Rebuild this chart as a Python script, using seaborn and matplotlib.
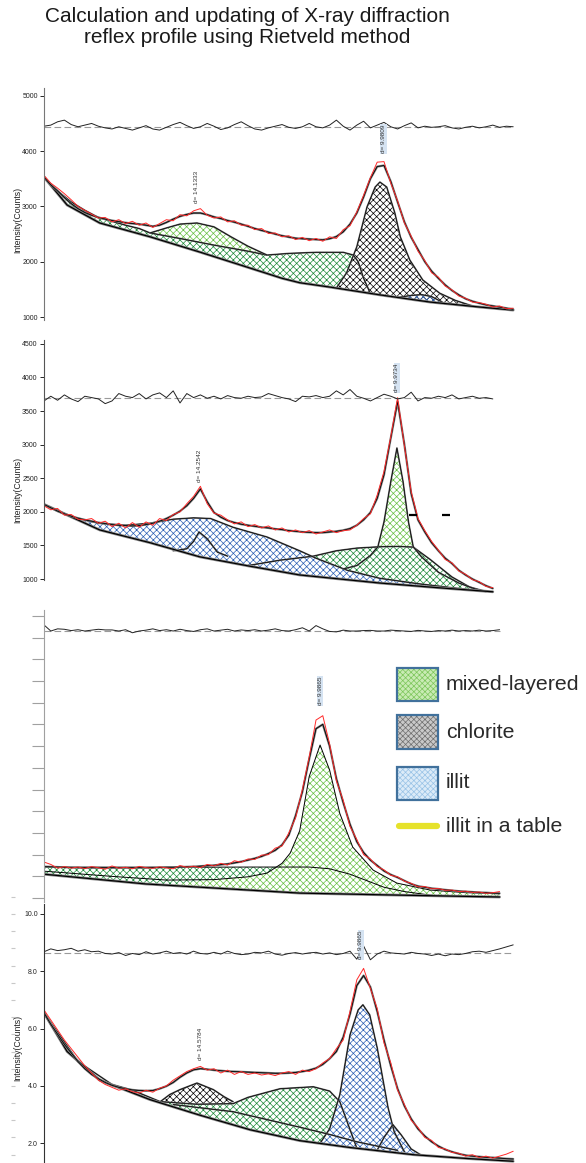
import numpy as np
import seaborn as sns
import matplotlib
matplotlib.use('Agg')
import matplotlib.pyplot as plt
from matplotlib.patches import Rectangle
from matplotlib.lines import Line2D

sns.set_style('white')
plt.rcParams['font.family'] = ['Liberation Sans', 'DejaVu Sans']
plt.rcParams['hatch.linewidth'] = 0.5

# scan grid, 2theta (deg)
two_theta = np.round(np.arange(4.0, 10.95, 0.1), 1)

# ---------------- panel 1 (counts)
p1_calc = [3530, 3390, 3280, 3160, 3050, 2960, 2890, 2840, 2800, 2770,
           2745, 2725, 2705, 2690, 2680, 2660, 2640, 2660, 2710, 2770,
           2820, 2855, 2880, 2880, 2850, 2810, 2780, 2745, 2715, 2680,
           2640, 2600, 2565, 2535, 2500, 2470, 2445, 2425, 2415, 2410,
           2400, 2395, 2415, 2455, 2540, 2680, 2880, 3170, 3500, 3720,
           3740, 3450, 3080, 2720, 2440, 2220, 2000, 1830, 1700, 1580,
           1480, 1400, 1330, 1285, 1250, 1220, 1200, 1180, 1160, 1140]
p1_obs = [3560, 3420, 3330, 3230, 3120, 3000, 2930, 2860, 2790, 2800,
          2720, 2760, 2690, 2730, 2660, 2700, 2620, 2690, 2760, 2740,
          2850, 2830, 2920, 2960, 2840, 2790, 2810, 2720, 2740, 2660,
          2660, 2580, 2600, 2510, 2520, 2450, 2470, 2400, 2440, 2380,
          2420, 2370, 2450, 2420, 2580, 2650, 2900, 3200, 3520, 3800,
          3810, 3420, 3100, 2700, 2460, 2190, 2020, 1800, 1720, 1560,
          1490, 1380, 1340, 1270, 1260, 1230, 1180, 1200, 1150, 1160]
p1_resid = [4450, 4470, 4530, 4560, 4480, 4440, 4470, 4500, 4450, 4420,
            4400, 4440, 4410, 4380, 4420, 4460, 4400, 4380, 4430, 4480,
            4520, 4460, 4410, 4440, 4500, 4450, 4390, 4420, 4480, 4530,
            4460, 4400, 4380, 4420, 4450, 4480, 4430, 4410, 4440, 4500,
            4440, 4420, 4470, 4560, 4450, 4380, 4470, 4540, 4420, 4470,
            4520, 4440, 4400, 4460, 4510, 4420, 4450, 4430, 4440, 4460,
            4420, 4400, 4430, 4450, 4420, 4440, 4470, 4430, 4450, 4440]
p1_zero = 4430
p1_bg_x = [4.0, 4.34, 4.82, 5.56, 6.29, 7.03, 7.5, 7.76, 8.21, 8.94, 9.68, 10.41, 10.9]
p1_bg_y = [3530, 3025, 2700, 2450, 2175, 1885, 1700, 1620, 1540, 1400, 1270, 1180, 1125]
p1_dgreen_x = [4.0, 4.2, 4.4, 4.6, 4.8, 5.0, 5.2, 5.4, 5.56, 6.0, 6.5, 7.0, 7.28,
               7.6, 8.0, 8.4, 8.55, 8.62, 8.7, 8.8]
p1_dgreen_y = [3530, 3280, 3080, 2930, 2800, 2730, 2660, 2600, 2520, 2420, 2300,
               2190, 2120, 2150, 2170, 2170, 2120, 2000, 1700, 1425]
p1_lgreen_x = [5.56, 5.8, 6.0, 6.25, 6.5, 6.75, 7.0, 7.28]
p1_lgreen_y = [2520, 2610, 2680, 2700, 2630, 2450, 2280, 2120]
p1_chlor_x = [8.3, 8.45, 8.6, 8.75, 8.87, 8.94, 9.04, 9.16, 9.24, 9.38, 9.57, 9.82, 10.05, 10.3]
p1_chlor_y = [1525, 1800, 2270, 2990, 3350, 3440, 3350, 2880, 2450, 2030, 1670, 1430, 1300, 1200]
p1_illit_x = [9.2, 9.4, 9.55, 9.7, 9.9]
p1_illit_y = [1355, 1390, 1405, 1370, 1240]

# ---------------- panel 2 (counts)
p2_calc = [2110, 2060, 2010, 1970, 1935, 1905, 1880, 1860, 1840, 1825,
           1810, 1800, 1795, 1790, 1795, 1810, 1830, 1860, 1900, 1950,
           2010, 2090, 2200, 2340, 2150, 1990, 1920, 1870, 1840, 1815,
           1800, 1785, 1770, 1760, 1745, 1735, 1720, 1710, 1700, 1695,
           1690, 1690, 1700, 1710, 1725, 1750, 1800, 1880, 1990, 2200,
           2550, 3100, 3640, 3000, 2270, 1880, 1700, 1540, 1420, 1310,
           1230, 1130, 1060, 1000, 950, 900, 860]
p2_obs = [2090, 2030, 2050, 1950, 1960, 1890, 1880, 1900, 1830, 1860,
          1780, 1830, 1760, 1840, 1770, 1850, 1800, 1900, 1870, 1960,
          2000, 2120, 2230, 2380, 2120, 1980, 1950, 1880, 1820, 1850,
          1780, 1810, 1760, 1790, 1730, 1760, 1700, 1730, 1690, 1720,
          1670, 1700, 1730, 1690, 1720, 1730, 1800, 1900, 1970, 2250,
          2600, 3120, 3700, 2980, 2300, 1900, 1720, 1560, 1430, 1290,
          1240, 1120, 1070, 990, 960, 890, 870]
p2_resid = [3650, 3720, 3660, 3740, 3680, 3640, 3720, 3700, 3680, 3610,
            3650, 3760, 3720, 3700, 3760, 3680, 3740, 3770, 3700, 3800,
            3620, 3760, 3700, 3740, 3690, 3720, 3680, 3730, 3700, 3690,
            3720, 3700, 3710, 3760, 3730, 3700, 3680, 3640, 3720, 3710,
            3730, 3700, 3720, 3800, 3740, 3820, 3720, 3690, 3650, 3700,
            3750, 3720, 3680, 3700, 3780, 3650, 3700, 3690, 3720, 3700,
            3740, 3680, 3700, 3720, 3690, 3700, 3680]
p2_zero = 3700
p2_bg_x = [4.0, 4.82, 5.56, 6.29, 7.03, 7.76, 8.94, 9.8, 10.6]
p2_bg_y = [2110, 1730, 1540, 1330, 1190, 1060, 940, 870, 810]
p2_illit_x = [4.0, 4.4, 4.8, 5.2, 5.56, 5.9, 6.2, 6.45, 6.78, 7.28, 7.76, 8.0,
              8.46, 8.94, 9.5, 10.0, 10.5]
p2_illit_y = [2110, 1930, 1830, 1800, 1830, 1890, 1910, 1900, 1770, 1625, 1420,
              1310, 1130, 1010, 930, 870, 815]
p2_illit2_x = [5.9, 6.1, 6.2, 6.28, 6.4, 6.55, 6.7]
p2_illit2_y = [1420, 1450, 1560, 1700, 1600, 1400, 1340]
p2_green_x = [7.0, 7.47, 7.96, 8.3, 8.6, 8.94, 9.2, 9.43, 9.68, 10.0, 10.26, 10.5]
p2_green_y = [1200, 1280, 1340, 1420, 1460, 1480, 1485, 1475, 1290, 1030, 880, 815]
p2_sharp_x = [8.4, 8.6, 8.8, 8.91, 9.0, 9.1, 9.19, 9.28, 9.36, 9.43, 9.55, 9.8, 10.1, 10.4]
p2_sharp_y = [1150, 1200, 1350, 1480, 1850, 2450, 2950, 2450, 1850, 1480, 1330, 1100, 940, 830]
p2_mark_x = [9.43, 9.91]
p2_mark_y = [1950, 1950]

# ---------------- panel 3 (no scale labels)
p3_calc = [1.45, 1.44, 1.43, 1.42, 1.41, 1.40, 1.40, 1.40, 1.40, 1.40,
           1.40, 1.40, 1.40, 1.40, 1.40, 1.40, 1.41, 1.41, 1.42, 1.42,
           1.43, 1.44, 1.45, 1.47, 1.49, 1.51, 1.54, 1.57, 1.62, 1.68,
           1.75, 1.83, 1.92, 2.05, 2.2, 2.45, 2.9, 3.8, 4.9, 6.4,
           7.8, 8.0, 7.0, 5.5, 4.4, 3.4, 2.6, 2.1, 1.75, 1.5,
           1.25, 1.08, 0.95, 0.8, 0.65, 0.55, 0.5, 0.45, 0.42, 0.38,
           0.35, 0.32, 0.3, 0.28, 0.26, 0.25, 0.23, 0.22]
p3_obs = [1.66, 1.55, 1.38, 1.45, 1.38, 1.43, 1.36, 1.45, 1.40, 1.33,
          1.48, 1.38, 1.42, 1.35, 1.46, 1.40, 1.37, 1.44, 1.39, 1.35,
          1.50, 1.42, 1.47, 1.40, 1.55, 1.48, 1.60, 1.52, 1.72, 1.65,
          1.80, 1.78, 1.98, 2.0, 2.3, 2.4, 3.0, 3.7, 5.0, 6.5,
          8.2, 8.4, 7.1, 5.4, 4.5, 3.3, 2.7, 2.0, 1.8, 1.45,
          1.3, 1.05, 0.98, 0.78, 0.68, 0.52, 0.53, 0.43, 0.44, 0.36,
          0.37, 0.3, 0.32, 0.26, 0.28, 0.22, 0.25, 0.3]
p3_resid = [12.58, 12.3, 12.4, 12.38, 12.32, 12.36, 12.3, 12.34, 12.38, 12.35,
            12.35, 12.3, 12.36, 12.22, 12.3, 12.34, 12.4, 12.32, 12.36, 12.3,
            12.38, 12.32, 12.28, 12.36, 12.4, 12.3, 12.34, 12.38, 12.3, 12.35,
            12.32, 12.36, 12.3, 12.34, 12.4, 12.32, 12.3, 12.36, 12.45, 12.3,
            12.55, 12.4, 12.28, 12.26, 12.34, 12.3, 12.3, 12.32, 12.33, 12.3,
            12.3, 12.34, 12.32, 12.3, 12.28, 12.33, 12.3, 12.28, 12.32, 12.3,
            12.34, 12.3, 12.32, 12.3, 12.34, 12.3, 12.32, 12.36]
p3_zero = 12.3
p3_bg_x = [4.0, 5.5, 7.76, 9.0, 10.7]
p3_bg_y = [1.1, 0.65, 0.23, 0.15, 0.05]
p3_dgreen_x = [4.0, 5.0, 6.0, 7.0, 7.47, 7.9, 8.2, 8.5, 8.75, 9.0, 9.3, 9.7]
p3_dgreen_y = [1.43, 1.42, 1.42, 1.43, 1.43, 1.43, 1.35, 1.1, 0.8, 0.5, 0.3, 0.13]
p3_lgreen_x = [4.0, 5.0, 5.8, 6.5, 7.0, 7.28, 7.5, 7.62, 7.76, 7.9, 8.06, 8.2, 8.35,
               8.54, 8.84, 9.19, 9.68, 10.2, 10.7]
p3_lgreen_y = [1.24, 1.0, 0.83, 0.85, 0.98, 1.15, 1.6, 2.07, 3.1, 5.6, 7.05, 5.9, 3.9,
               2.35, 1.29, 0.69, 0.37, 0.25, 0.2]

# ---------------- panel 4 (counts, scaled)
p4_calc = [6.55, 6.15, 5.8, 5.45, 5.15, 4.85, 4.6, 4.4, 4.25, 4.12,
           4.02, 3.95, 3.9, 3.86, 3.84, 3.83, 3.84, 3.9, 3.99, 4.12,
           4.3, 4.45, 4.56, 4.6, 4.58, 4.55, 4.53, 4.51, 4.5, 4.49,
           4.48, 4.47, 4.46, 4.45, 4.44, 4.44, 4.45, 4.47, 4.5, 4.55,
           4.62, 4.75, 4.95, 5.2, 5.7, 6.5, 7.5, 7.85, 7.45, 6.6,
           5.6, 4.7, 3.9, 3.3, 2.85, 2.5, 2.25, 2.05, 1.9, 1.78,
           1.7, 1.63, 1.58, 1.55, 1.53, 1.51, 1.5, 1.48, 1.46, 1.45]
p4_obs = [6.65, 6.3, 5.95, 5.6, 5.3, 5.0, 4.7, 4.45, 4.2, 4.05,
          3.95, 3.85, 3.9, 3.8, 3.75, 3.85, 3.78, 3.92, 4.0, 4.2,
          4.35, 4.5, 4.6, 4.68, 4.55, 4.6, 4.45, 4.55, 4.4, 4.5,
          4.4, 4.45, 4.38, 4.42, 4.36, 4.45, 4.5, 4.4, 4.55, 4.5,
          4.6, 4.8, 4.95, 5.3, 5.6, 6.6, 7.7, 8.1, 7.4, 6.7,
          5.5, 4.8, 3.85, 3.35, 2.8, 2.55, 2.2, 2.1, 1.85, 1.8,
          1.68, 1.65, 1.55, 1.6, 1.5, 1.55, 1.48, 1.55, 1.62, 1.72]
p4_resid = [8.68, 8.78, 8.72, 8.75, 8.8, 8.7, 8.75, 8.68, 8.7, 8.62,
            8.6, 8.65, 8.55, 8.62, 8.58, 8.68, 8.6, 8.64, 8.7, 8.62,
            8.65, 8.6, 8.7, 8.62, 8.6, 8.66, 8.6, 8.7, 8.62, 8.58,
            8.6, 8.66, 8.64, 8.7, 8.6, 8.56, 8.62, 8.65, 8.6, 8.64,
            8.66, 8.6, 8.64, 8.58, 8.62, 8.7, 8.42, 8.88, 8.4, 8.6,
            8.7, 8.64, 8.62, 8.6, 8.66, 8.62, 8.6, 8.55, 8.6, 8.54,
            8.6, 8.58, 8.62, 8.68, 8.7, 8.66, 8.72, 8.78, 8.85, 8.92]
p4_zero = 8.62
p4_bg_x = [4.0, 4.34, 4.82, 5.56, 6.29, 7.03, 7.76, 8.5, 9.43, 10.2, 10.9]
p4_bg_y = [6.55, 5.2, 4.2, 3.52, 2.98, 2.47, 2.09, 1.85, 1.6, 1.47, 1.37]
p4_dgreen_x = [4.0, 4.5, 5.0, 5.3, 5.71, 6.25, 6.78, 7.0, 7.47, 7.96, 8.2, 8.35, 8.45, 8.6]
p4_dgreen_y = [6.55, 4.85, 4.05, 3.85, 3.45, 3.36, 3.38, 3.6, 3.9, 3.97, 3.82, 3.45, 2.8, 1.83]
p4_chlor_x = [5.71, 5.85, 6.0, 6.25, 6.49, 6.65, 6.78]
p4_chlor_y = [3.45, 3.7, 3.87, 4.1, 3.87, 3.62, 3.45]
p4_illit_x = [8.06, 8.2, 8.35, 8.5, 8.62, 8.69, 8.79, 8.9, 8.99, 9.06, 9.15, 9.3]
p4_illit_y = [2.0, 2.5, 3.69, 5.78, 6.65, 6.83, 6.48, 5.33, 4.15, 3.24, 2.4, 1.7]
p4_illit2_x = [8.9, 9.0, 9.13, 9.25, 9.4, 9.55]
p4_illit2_y = [1.76, 2.2, 2.65, 2.3, 1.8, 1.58]
p4_inner_x = [5.9, 6.78, 7.76, 8.21, 8.6, 9.2]
p4_inner_y = [3.35, 3.1, 2.56, 2.3, 2.05, 1.75]

legend_labels = ['mixed-layered', 'chlorite', 'illit', 'illit in a table']

# colours
LGREEN = '#66c044'
DGREEN = '#1c8a38'
BLUE = '#2b5fb3'
RED = '#ff2a2a'

W, H = 586, 1163
fig = plt.figure(figsize=(W / 100, H / 100), dpi=100)


def px_axes(top, bottom):
    ax = fig.add_axes([44 / W, 1 - bottom / H, 476 / W, (bottom - top) / H])
    ax.set_facecolor('none')
    ax.set_xlim(4.0, 11.0)
    ax.set_xticks([])
    for s in ['top', 'right', 'bottom']:
        ax.spines[s].set_visible(False)
    return ax


def line(ax, x, y, color='black', lw=0.8, **kw):
    sns.lineplot(x=np.asarray(x, float), y=np.asarray(y, float), ax=ax, color=color,
                 linewidth=lw, estimator=None, sort=False, **kw)


def hatch(ax, x, low, high, color, face='none', where=None):
    ax.fill_between(x, low, high, facecolor=face, edgecolor=color, hatch='xxxxx',
                    linewidth=0, where=where, interpolate=True)


def profile(ax, calc, obs, resid, zero, bg_x, bg_y):
    n = len(calc)
    x = two_theta[:n]
    line(ax, bg_x, bg_y, color='#8a8a8a', lw=2.0)
    line(ax, bg_x, bg_y, color='black', lw=0.9)
    line(ax, x, calc, color='#7a7a7a', lw=1.6)
    line(ax, x, calc, color='black', lw=0.6)
    line(ax, two_theta[:len(obs)], obs, color=RED, lw=0.7)
    ax.axhline(zero, xmin=0, xmax=(x[-1] - 4.0) / 7.0, color='#9a9a9a', lw=0.8, ls=(0, (6, 3)))
    line(ax, two_theta[:len(resid)], resid, color='#222222', lw=0.7)


def dlabel(ax, x, y, text, boxed=False):
    kw = dict(rotation=90, ha='center', va='bottom', fontsize=4.6, color='#333333')
    if boxed:
        kw['bbox'] = dict(facecolor='#d5e3f2', edgecolor='none', pad=0.6)
    ax.text(x, y, text, **kw)


def ylab(ypx):
    fig.text(18 / W, 1 - ypx / H, 'Intensity(Counts)', rotation=90, ha='center',
             va='center', fontsize=6.3, color='#222222')


# ---------- panel 1
ax1 = px_axes(88, 320)
ax1.set_ylim(946, 5141)
bg = lambda x: np.interp(x, p1_bg_x, p1_bg_y)
hatch(ax1, p1_dgreen_x, bg(p1_dgreen_x), p1_dgreen_y, DGREEN)
hatch(ax1, p1_lgreen_x, np.interp(p1_lgreen_x, p1_dgreen_x, p1_dgreen_y), p1_lgreen_y, LGREEN)
hatch(ax1, p1_chlor_x, bg(p1_chlor_x), p1_chlor_y, 'black', face='white')
hatch(ax1, p1_illit_x, bg(p1_illit_x), p1_illit_y, BLUE)
for cx, cy in [(p1_dgreen_x, p1_dgreen_y), (p1_lgreen_x, p1_lgreen_y),
               (p1_chlor_x, p1_chlor_y), (p1_illit_x, p1_illit_y)]:
    line(ax1, cx, cy, color='#6a6a6a', lw=1.2)
    line(ax1, cx, cy, color='black', lw=0.5)
profile(ax1, p1_calc, p1_obs, p1_resid, p1_zero, p1_bg_x, p1_bg_y)
ax1.set_yticks([1000, 2000, 3000, 4000, 5000])
dlabel(ax1, 6.25, 3060, 'd= 14.1333')
dlabel(ax1, 8.99, 3965, 'd= 9.9809', boxed=True)
ylab(220)

# ---------- panel 2
ax2 = px_axes(340, 595)
ax2.set_ylim(762, 4557)
bg = lambda x: np.interp(x, p2_bg_x, p2_bg_y)
hatch(ax2, p2_green_x, bg(p2_green_x), p2_green_y, DGREEN)
hatch(ax2, p2_illit_x, bg(p2_illit_x), p2_illit_y, BLUE, face='white')
gtop = np.interp(p2_sharp_x, p2_green_x, p2_green_y)
hatch(ax2, p2_sharp_x, gtop, p2_sharp_y, LGREEN, where=np.array(p2_sharp_y) >= gtop)
for cx, cy in [(p2_green_x, p2_green_y), (p2_illit_x, p2_illit_y),
               (p2_illit2_x, p2_illit2_y), (p2_sharp_x, p2_sharp_y)]:
    line(ax2, cx, cy, color='#6a6a6a', lw=1.2)
    line(ax2, cx, cy, color='black', lw=0.5)
profile(ax2, p2_calc, p2_obs, p2_resid, p2_zero, p2_bg_x, p2_bg_y)
ax2.plot(p2_mark_x, p2_mark_y, ls='none', marker='_', ms=6, mew=1.6, color='black')
ax2.set_yticks([1000, 1500, 2000, 2500, 3000, 3500, 4000, 4500])
ax2.spines['left'].set_bounds(985, 4557)
dlabel(ax2, 6.28, 2443, 'd= 14.2542')
dlabel(ax2, 9.19, 3783, 'd= 9.9734', boxed=True)
ylab(490)

# ---------- panel 3
ax3 = px_axes(608, 902)
ax3.set_ylim(-0.18, 13.36)
bg = lambda x: np.interp(x, p3_bg_x, p3_bg_y)
hatch(ax3, p3_dgreen_x, bg(p3_dgreen_x), p3_dgreen_y, DGREEN)
hatch(ax3, p3_lgreen_x, bg(p3_lgreen_x), p3_lgreen_y, LGREEN, face='white',
      where=np.array(p3_lgreen_x) >= 6.3)
for cx, cy in [(p3_dgreen_x, p3_dgreen_y), (p3_lgreen_x, p3_lgreen_y)]:
    line(ax3, cx, cy, color='black', lw=0.7)
profile(ax3, p3_calc, p3_obs, p3_resid, p3_zero, p3_bg_x, p3_bg_y)
ax3.set_yticks(range(0, 14))
ax3.set_yticklabels([])
ax3.tick_params(axis='y', length=9, width=0.8, color='#a0a0a0', left=True)
ax3.spines['left'].set_color('#a0a0a0')
ax3.spines['left'].set_bounds(-0.18, 13.27)
dlabel(ax3, 8.06, 8.9, 'd= 9.9865', boxed=True)

# ---------- panel 4
ax4 = px_axes(895, 1163)
ax4.set_ylim(1.31, 10.66)
bg = lambda x: np.interp(x, p4_bg_x, p4_bg_y)
hatch(ax4, p4_dgreen_x, bg(p4_dgreen_x), p4_dgreen_y, DGREEN)
hatch(ax4, p4_chlor_x, np.interp(p4_chlor_x, p4_dgreen_x, p4_dgreen_y), p4_chlor_y, 'black')
hatch(ax4, p4_illit_x, bg(p4_illit_x), p4_illit_y, BLUE, face='white')
hatch(ax4, p4_illit2_x, bg(p4_illit2_x), p4_illit2_y, BLUE, face='white')
for cx, cy in [(p4_dgreen_x, p4_dgreen_y), (p4_chlor_x, p4_chlor_y), (p4_illit_x, p4_illit_y),
               (p4_illit2_x, p4_illit2_y), (p4_inner_x, p4_inner_y)]:
    line(ax4, cx, cy, color='#6a6a6a', lw=1.2)
    line(ax4, cx, cy, color='black', lw=0.5)
profile(ax4, p4_calc, p4_obs, p4_resid, p4_zero, p4_bg_x, p4_bg_y)
ax4.set_yticks([2.0, 4.0, 6.0, 8.0, 10.0])
ax4.set_yticklabels(['2.0', '4.0', '6.0', '8.0', '10.0'])
ax4.spines['left'].set_bounds(1.31, 10.33)
dlabel(ax4, 6.3, 4.9, 'd= 14.5784')
dlabel(ax4, 8.66, 8.42, 'd= 9.9865', boxed=True)
ylab(1048)
sec = ax4.secondary_yaxis(-0.065)
sec.spines['left'].set_visible(False)
sec.set_yticks(np.arange(1.6, 10.7, 0.6))
sec.set_yticklabels([])
sec.tick_params(length=3, width=0.8, color='#c8c8c8', direction='inout')

for ax in (ax1, ax2, ax4):
    ax.tick_params(axis='y', left=True, length=3, width=0.7, labelsize=5, pad=1.5,
                   labelcolor='#222222')
    ax.spines['left'].set_color('#333333')
ax1.spines['left'].set_color('#777777')
ax2.spines['left'].set_color('#555555')

# ---------- legend (figure coords)
def fx(p):
    return p / W


def fy(p):
    return 1 - p / H


boxes = [(668, 701, '#c9ebb4', '#7cc65a'),
         (715, 749, '#c9c9c9', '#6e6e6e'),
         (767, 800, '#dcebf8', '#98c2e6')]
for top, bot, face, hc in boxes:
    fig.add_artist(Rectangle((fx(397), fy(bot)), 41 / W, (bot - top) / H,
                             transform=fig.transFigure, facecolor=face, edgecolor=hc,
                             hatch='xxxxxx', linewidth=0))
    fig.add_artist(Rectangle((fx(397), fy(bot)), 41 / W, (bot - top) / H,
                             transform=fig.transFigure, facecolor='none',
                             edgecolor='#41719c', linewidth=1.6))
fig.add_artist(Line2D([fx(399), fx(437)], [fy(826), fy(826)], transform=fig.transFigure,
                      color='#e6e22a', linewidth=4.5))
for label, ypx in zip(legend_labels, [685, 733, 783, 826]):
    fig.text(fx(446), fy(ypx), label, ha='left', va='center', fontsize=15.3, color='#2a2a2a')

# ---------- title
fig.text(fx(247), fy(7), 'Calculation and updating of X-ray diffraction\nreflex profile using Rietveld method',
         ha='center', va='top', fontsize=15, color='#1a1a1a', linespacing=1.15)

fig.savefig('out.png', dpi=100)
